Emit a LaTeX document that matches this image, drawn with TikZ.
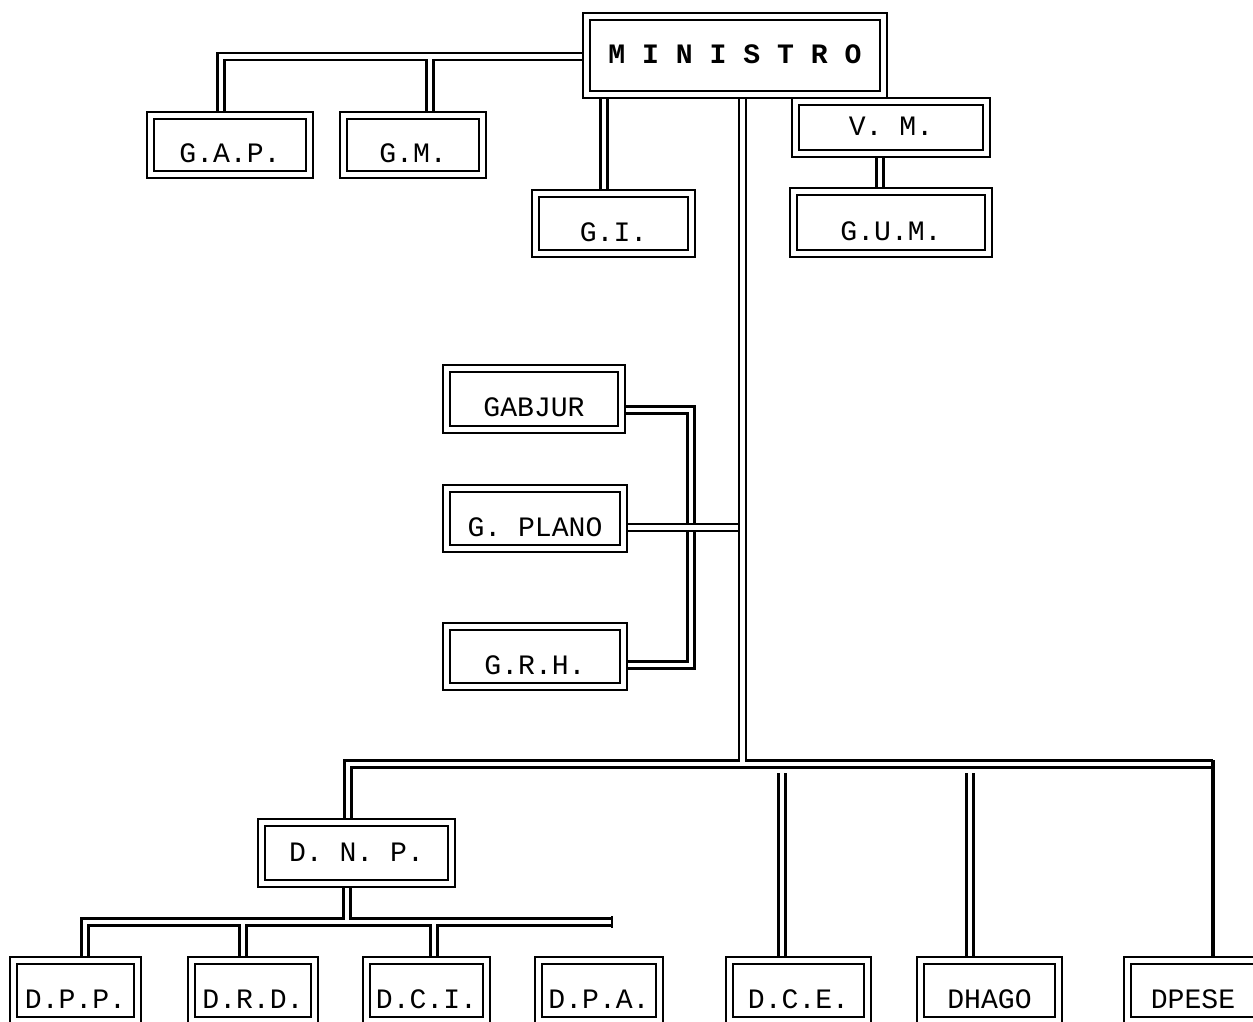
\documentclass[tikz,border=0pt]{standalone}
\usepackage{fontspec}
\setmainfont{Liberation Mono}
\usetikzlibrary{backgrounds}

\begin{document}
\begin{tikzpicture}[x=0.02cm,y=-0.02cm,
  box/.style={draw,double,double distance=0.09cm,line width=0.05cm,inner sep=0pt,
    font=\fontsize{16}{18}\selectfont,text height=0.32cm,text depth=0pt},
  lowbox/.style={box,text height=0.7cm},
  wire/.style={double,double distance=0.09cm,line width=0.05cm}]
  \useasboundingbox (0,0) rectangle (1253,1021);
  % top level
  \node[box,minimum width=5.94cm,minimum height=1.56cm] (mini) at (735,55.5)
    {\bfseries\addfontfeature{LetterSpace=60}MINISTRO};
  \node[lowbox,minimum width=3.18cm,minimum height=1.18cm] (gap) at (230,145) {G.A.P.};
  \node[lowbox,minimum width=2.78cm,minimum height=1.18cm] (gm) at (413,145) {G.M.};
  \node[lowbox,minimum width=3.12cm,minimum height=1.2cm] (gi) at (613.5,223.5) {G.I.};
  \node[box,minimum width=3.82cm,minimum height=1.04cm] (vm) at (891,127.5) {V. M.};
  \node[lowbox,minimum width=3.9cm,minimum height=1.24cm] (gum) at (891,222.5) {G.U.M.};
  % middle group
  \node[lowbox,minimum width=3.5cm,minimum height=1.22cm] (gabjur) at (534,399) {GABJUR};
  \node[lowbox,minimum width=3.54cm,minimum height=1.2cm] (plano) at (535,518.5) {G. PLANO};
  \node[lowbox,minimum width=3.54cm,minimum height=1.2cm] (grh) at (535,656.5) {G.R.H.};
  % directions
  \node[box,minimum width=3.8cm,minimum height=1.22cm] (dnp) at (356.5,853) {D. N. P.};
  \node[lowbox,minimum width=2.48cm,minimum height=1.2cm] (dpp) at (75.5,990.5) {D.P.P.};
  \node[lowbox,minimum width=2.46cm,minimum height=1.2cm] (drd) at (253,990.5) {D.R.D.};
  \node[lowbox,minimum width=2.4cm,minimum height=1.2cm] (dci) at (426.5,990.5) {D.C.I.};
  \node[lowbox,minimum width=2.42cm,minimum height=1.2cm] (dpa) at (599,990.5) {D.P.A.};
  \node[lowbox,minimum width=2.76cm,minimum height=1.2cm] (dce) at (798.5,990.5) {D.C.E.};
  \node[lowbox,minimum width=2.76cm,minimum height=1.2cm] (dhago) at (989.5,990.5) {DHAGO};
  \node[lowbox,minimum width=2.62cm,minimum height=1.2cm] (dpese) at (1193,990.5) {DPESE};

  \coordinate (busR) at (1213,764);
  \coordinate (subR) at (612,922);
  \begin{scope}[on background layer]
    \draw[wire] (mini.west |- 0,56.5) -| (gap.north -| 221,0) (430,56.5) -- (gm.north -| 430,0);
    \draw[wire] (mini.south -| 604,0) -- (gi.north -| 604,0);
    \draw[wire] (vm.south -| 880,0) -- (gum.north -| 880,0);
    \draw[wire] (gabjur.east |- 0,410) -| (691,665) -- (grh.east |- 0,665);
    \draw[wire] (plano.east |- 0,527.5) -- (740,527.5);
    \draw[wire] (mini.south -| 742.5,0) -- (742.5,764) (dnp.north -| 348,0) |- (busR);
    \draw[line width=0.07cm] ([yshift=0.08cm]busR) -- (dpese.north -| busR);
    \draw[wire] (782,773) -- (dce.north -| 782,0);
    \draw[wire] (970,773) -- (dhago.north -| 970,0);
    \draw[wire] (dnp.south -| 347,0) -- (347,922) (dpp.north -| 85,0) |- (subR)
      (drd.north -| 243,0) -- (243,922) (dci.north -| 434,0) -- (434,922);
    \draw[line width=0.05cm] ([yshift=0.115cm]subR) -- ([yshift=-0.115cm]subR);
  \end{scope}
\end{tikzpicture}
\end{document}
